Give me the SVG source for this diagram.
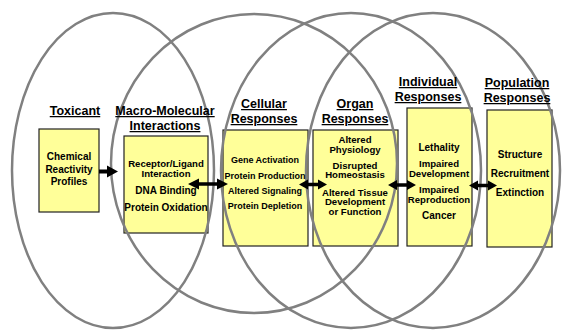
<svg xmlns="http://www.w3.org/2000/svg" width="562" height="330" viewBox="0 0 562 330">
<style>
.box{fill:#FFFF99;stroke:#222;stroke-width:1.2}
.ell{fill:none;stroke:#808080;stroke-width:2.5}
text{font-family:"Liberation Sans",Arial,sans-serif;font-weight:bold;fill:#000;text-anchor:middle}
.h{font-size:12.5px;text-decoration:underline}
.t{font-size:10px}
.c{font-size:9.6px}
.s{font-size:9px}
.arr{fill:#000}
</style>
<rect width="562" height="330" fill="#fff"/>
<g id="boxes">
<rect class="box" x="39" y="129" width="60" height="83"/>
<rect class="box" x="124" y="136" width="84" height="97"/>
<rect class="box" x="223" y="130" width="85" height="116"/>
<rect class="box" x="313" y="130" width="85" height="116"/>
<rect class="box" x="407" y="108" width="65" height="138"/>
<rect class="box" x="487" y="110" width="65" height="137"/>
</g>
<g id="ellipses">
<ellipse class="ell" cx="113" cy="170.5" rx="101" ry="157.5"/>
<ellipse class="ell" cx="254" cy="163.5" rx="143" ry="149.5"/>
<ellipse class="ell" cx="351" cy="170.5" rx="130" ry="157.5"/>
<ellipse class="ell" cx="433" cy="170.5" rx="127" ry="157.5"/>
</g>
<g id="toxicant">
<text class="h" x="75" y="115">Toxicant</text>
<text class="t" x="69" y="160">Chemical</text>
<text class="t" x="69" y="172.5">Reactivity</text>
<text class="t" x="69" y="184.5">Profiles</text>
</g>
<g id="macro">
<text class="h" x="165" y="115">Macro-Molecular</text>
<text class="h" x="165" y="130">Interactions</text>
<text class="c" x="166" y="167">Receptor/Ligand</text>
<text class="c" x="166" y="176.5">Interaction</text>
<text class="t" x="166" y="194">DNA Binding</text>
<text class="t" x="166" y="211">Protein Oxidation</text>
</g>
<g id="cellular">
<text class="h" x="264" y="108">Cellular</text>
<text class="h" x="264" y="123">Responses</text>
<text class="s" x="265" y="163">Gene Activation</text>
<text class="s" x="265" y="179">Protein Production</text>
<text class="s" x="265" y="194">Altered Signaling</text>
<text class="s" x="265" y="209">Protein Depletion</text>
</g>
<g id="organ">
<text class="h" x="355" y="108">Organ</text>
<text class="h" x="355" y="123">Responses</text>
<text class="c" x="355" y="143">Altered</text>
<text class="c" x="355" y="153">Physiology</text>
<text class="c" x="355" y="168.5">Disrupted</text>
<text class="c" x="355" y="178">Homeostasis</text>
<text class="c" x="355" y="195.5">Altered Tissue</text>
<text class="c" x="355" y="205">Development</text>
<text class="c" x="355" y="214.5">or Function</text>
</g>
<g id="individual">
<text class="h" x="428" y="86">Individual</text>
<text class="h" x="428" y="101">Responses</text>
<text class="t" x="439" y="151">Lethality</text>
<text class="c" x="439" y="167">Impaired</text>
<text class="c" x="439" y="176.5">Development</text>
<text class="c" x="439" y="193">Impaired</text>
<text class="c" x="439" y="202.5">Reproduction</text>
<text class="t" x="439" y="219">Cancer</text>
</g>
<g id="population">
<text class="h" x="517" y="87">Population</text>
<text class="h" x="517" y="102">Responses</text>
<text class="t" x="520" y="158">Structure</text>
<text class="t" x="520" y="177">Recruitment</text>
<text class="t" x="520" y="196">Extinction</text>
</g>
<g id="connectors">
<polygon class="arr" points="99,169.5 107,169.5 107,165.5 118,171.5 107,177.5 107,173.5 99,173.5"/>
<polygon class="arr" points="188,184 199,178.5 199,182.3 217,182.3 217,178.5 228,184 217,189.5 217,185.7 199,185.7 199,189.5"/>
<polygon class="arr" points="299,184.5 308,179.5 308,182.8 318,182.8 318,179.5 327,184.5 318,189.5 318,186.2 308,186.2 308,189.5"/>
<polygon class="arr" points="388,185 397,180 397,183.3 407,183.3 407,180 416,185 407,190 407,186.7 397,186.7 397,190"/>
<polygon class="arr" points="469,185.5 478,180.5 478,183.8 488,183.8 488,180.5 497,185.5 488,190.5 488,187.2 478,187.2 478,190.5"/>
</g>
</svg>
